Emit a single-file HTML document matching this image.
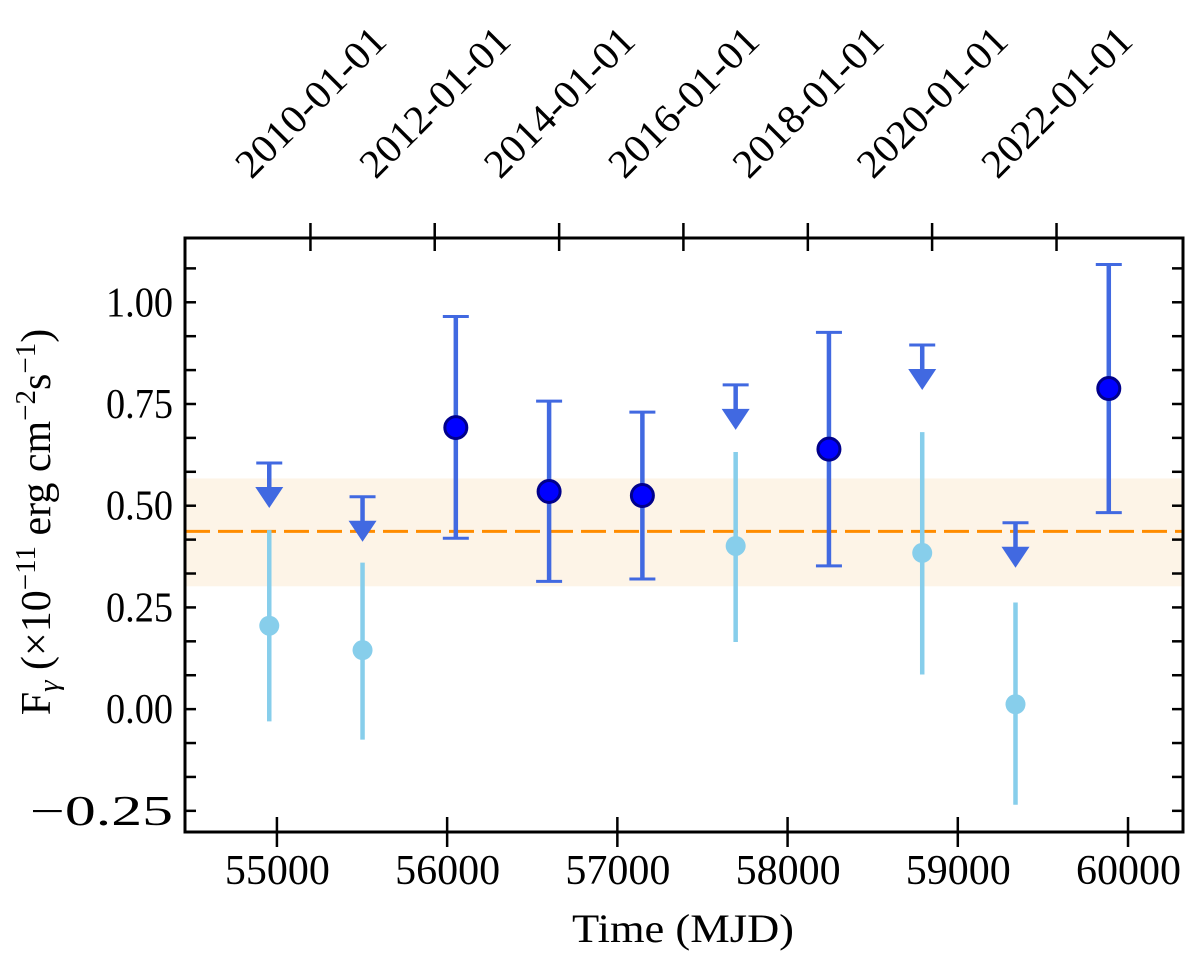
<!DOCTYPE html>
<html><head><meta charset="utf-8"><style>
html,body{margin:0;padding:0;background:#fff;}
svg{display:block;font-family:"Liberation Serif",serif;}
</style></head><body>
<svg id="chart" width="1200" height="954" viewBox="0 0 1200 954" xmlns="http://www.w3.org/2000/svg">
<g id="plot"></g>
</svg>
<script>
// ---- data ----
const detMJD = [56051, 56599, 57147, 58243, 59887];
const detFlux = [0.692, 0.535, 0.525, 0.639, 0.788];
const detUpper = [0.965, 0.757, 0.730, 0.926, 1.093];
const detLower = [0.420, 0.314, 0.320, 0.352, 0.483];
const ulMJD = [54955, 55503, 57695, 58791, 59339];
const ulFlux = [0.605, 0.522, 0.797, 0.895, 0.458];
const tsFlux = [0.205, 0.145, 0.401, 0.384, 0.012];
const tsUpper = [0.440, 0.360, 0.632, 0.681, 0.262];
const tsLower = [-0.030, -0.075, 0.165, 0.085, -0.235];
const meanFlux = [0.437];
const bandLow = [0.302];
const bandHigh = [0.567];
const xTicks = [55000, 56000, 57000, 58000, 59000, 60000];
const yTicks = [-0.25, 0.00, 0.25, 0.50, 0.75, 1.00];
const yTickLabels = ["\u22120.25", "0.00", "0.25", "0.50", "0.75", "1.00"];
const dateTicks = [55197, 55927, 56658, 57388, 58119, 58849, 59580];
const dateLabels = ["2010-01-01","2012-01-01","2014-01-01","2016-01-01","2018-01-01","2020-01-01","2022-01-01"];

// ---- axes ----
const L=185, R=1183, T=238, B=832;
const xMin=54460, xMax=60323, yMin=-0.302, yMax=1.158;
const X = m => L + (m - xMin) / (xMax - xMin) * (R - L);
const Y = v => B - (v - yMin) / (yMax - yMin) * (B - T);

const NS="http://www.w3.org/2000/svg";
const svg=document.getElementById('chart');
function mk(tag, attrs, parent){const e=document.createElementNS(NS,tag);for(const k in attrs)e.setAttribute(k,attrs[k]);(parent||svg).appendChild(e);return e;}

let band=mk('rect',{x:L,y:Y(bandHigh[0]),width:R-L,height:Y(bandLow[0])-Y(bandHigh[0]),fill:'#fdf4e7'});


let mean=mk('line',{x1:L,x2:R,y1:Y(meanFlux[0]),y2:Y(meanFlux[0]),stroke:'#ff8c00','stroke-width':3,'stroke-dasharray':'25,8'});



for(let i=0;i<ulMJD.length;i++){
  const x=X(ulMJD[i]);
  const g=mk('g',{});
  
  
  mk('line',{x1:x,x2:x,y1:Y(tsUpper[i]),y2:Y(tsLower[i]),stroke:'#87ceeb','stroke-width':4.5},g);
  mk('circle',{cx:x,cy:Y(tsFlux[i]),r:10,fill:'#87ceeb'},g);
}
for(let i=0;i<ulMJD.length;i++){
  const x=X(ulMJD[i]), y=Y(ulFlux[i]);
  const g=mk('g',{});
  
  
  mk('line',{x1:x-13,x2:x+13,y1:y,y2:y,stroke:'#4169e1','stroke-width':3},g);
  mk('line',{x1:x,x2:x,y1:y,y2:y+25,stroke:'#4169e1','stroke-width':4.5},g);
  mk('polygon',{points:`${x-14},${y+24} ${x+14},${y+24} ${x},${y+45}`,fill:'#4169e1'},g);
}
for(let i=0;i<detMJD.length;i++){
  const x=X(detMJD[i]);
  const g=mk('g',{});
  
  
  const yu=Y(detUpper[i]), yl=Y(detLower[i]);
  mk('line',{x1:x,x2:x,y1:yu,y2:yl,stroke:'#4169e1','stroke-width':4.5},g);
  mk('line',{x1:x-13,x2:x+13,y1:yu,y2:yu,stroke:'#4169e1','stroke-width':3},g);
  mk('line',{x1:x-13,x2:x+13,y1:yl,y2:yl,stroke:'#4169e1','stroke-width':3},g);
  mk('circle',{cx:x,cy:Y(detFlux[i]),r:11,fill:'#0000ff',stroke:'#00008b','stroke-width':3},g);
}

let fr=mk('rect',{x:L,y:T,width:R-L,height:B-T,fill:'none',stroke:'#000','stroke-width':3});



for(let i=0;i<xTicks.length;i++){
  const x=X(xTicks[i]);
  mk('line',{x1:x,x2:x,y1:B-15,y2:B+15,stroke:'#000','stroke-width':2.5});
  const t=mk('text',{x:x-52,y:884,'font-size':42,textLength:105,lengthAdjust:'spacingAndGlyphs'});
  t.textContent=xTicks[i];
  
  
}
for(let i=0;i<dateTicks.length;i++){
  const x=X(dateTicks[i]);
  mk('line',{x1:x,x2:x,y1:T-15,y2:T+13,stroke:'#000','stroke-width':2.5});
  const t=mk('text',{x:x-97,y:102,'dominant-baseline':'central','font-size':40,textLength:194,lengthAdjust:'spacingAndGlyphs',transform:`rotate(-45 ${x} 102)`});
  t.textContent=dateLabels[i];
  
  
}
for(let k=-4;k<=13;k++){
  const v=k*0.25/3;
  if(v<yMin||v>yMax)continue;
  const y=Y(v);
  mk('line',{x1:L,x2:L+11,y1:y,y2:y,stroke:'#000','stroke-width':2.5});
  mk('line',{x1:R-11,x2:R,y1:y,y2:y,stroke:'#000','stroke-width':2.5});
}
for(let i=0;i<yTicks.length;i++){
  const y=Y(yTicks[i]);
  const w = yTicks[i]<0 ? 143 : 67;
  const t=mk('text',{x:173-w,y:y+14,'font-size':42,textLength:w,lengthAdjust:'spacingAndGlyphs'});
  t.textContent=yTickLabels[i];
  
  
}
let xt=mk('text',{x:683,y:942,'text-anchor':'middle','font-size':40,textLength:222,lengthAdjust:'spacingAndGlyphs'});
xt.textContent='Time (MJD)';


let yt=mk('text',{x:0,y:0,'text-anchor':'middle','font-size':42,transform:'translate(50 522) rotate(-90)'});
yt.innerHTML='F<tspan font-size="29" font-style="italic" dy="8">γ</tspan><tspan dy="-8"> (×10</tspan><tspan font-size="29" dy="-15">−11</tspan><tspan dy="15"> erg cm</tspan><tspan font-size="29" dy="-15">−2</tspan><tspan dy="15">s</tspan><tspan font-size="29" dy="-15">−1</tspan><tspan dy="15">)</tspan>';


</script>
</body></html>
